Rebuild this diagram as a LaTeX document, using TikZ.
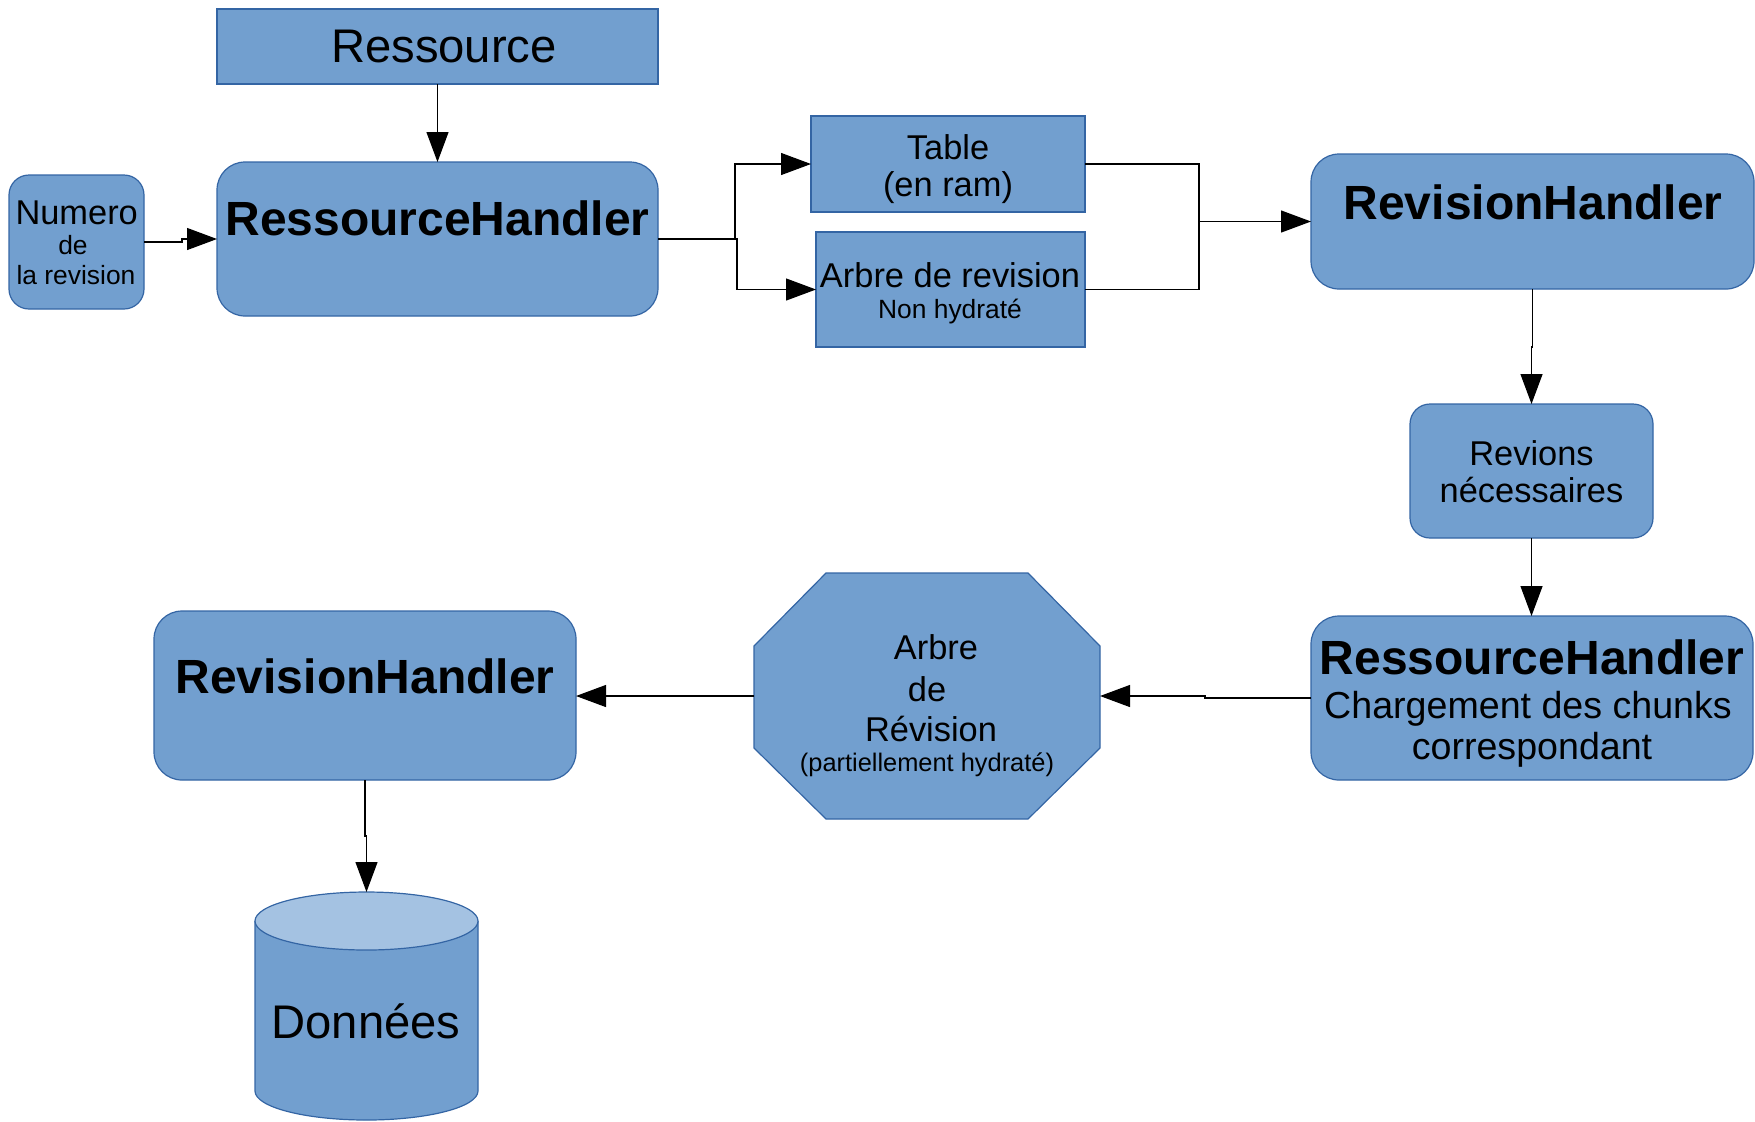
\documentclass[tikz,border=0pt]{standalone}
\usepackage{fontspec}
\setmainfont{Liberation Sans}
\usetikzlibrary{arrows.meta,calc}
\definecolor{boxfill}{HTML}{729FCF}
\definecolor{boxline}{HTML}{3465A4}
\definecolor{cyltop}{HTML}{A4C2E2}
\begin{document}
\begin{tikzpicture}[x=0.5pt,y=-0.5pt,
 shapebox/.style={draw=boxline, fill=boxfill, line width=0.6pt, inner sep=0pt, outer sep=0pt},
 roundbox/.style={shapebox, rounded corners=14pt},
 txt/.style={inner sep=0pt, text depth=0pt},
 bigtxt/.style={txt, text height=16.9pt, font=\fontsize{23.6}{28}\selectfont},
 boldtxt/.style={txt, text height=17.2pt, font=\fontsize{24}{28}\selectfont\bfseries},
 medtxt/.style={txt, text height=12.4pt, font=\fontsize{17.2}{20}\selectfont},
 lrgtxt/.style={txt, text height=13.5pt, font=\fontsize{18.8}{22}\selectfont},
 smalltxt/.style={txt, text height=9.5pt, font=\fontsize{13.2}{16}\selectfont},
 conn/.style={draw=black, line width=0.6pt, -{Triangle[length=15pt,width=11pt]}},
 wire/.style={draw=black, line width=0.6pt}]

\useasboundingbox (0,0) rectangle (1755,1121);

% Ressource
\node[shapebox, minimum width=220.5pt, minimum height=37.5pt] (res) at (437.5,46.5) {};
\node[bigtxt] (resT) at (444,46) {Ressource};

% RessourceHandler (top)
\node[roundbox, minimum width=220.5pt, minimum height=77pt] (rh1) at (437.5,239) {};
\node[boldtxt] (rh1T) at (437.5,218.5) {RessourceHandler};

% Numero de la revision
\node[roundbox, rounded corners=10pt, minimum width=67.5pt, minimum height=67pt] (num) at (76.5,242) {};
\node[medtxt] (numA) at (76.7,212) {Numero};
\node[smalltxt] (numB) at (73,245) {de};
\node[smalltxt] (numC) at (76,275) {la revision};

% Table (en ram)
\node[shapebox, minimum width=137pt, minimum height=48pt] (table) at (948,164) {};
\node[medtxt] (tabA) at (948,147) {Table};
\node[medtxt] (tabB) at (948,184) {(en ram)};

% Arbre de revision
\node[shapebox, minimum width=134.5pt, minimum height=57.5pt] (arbre) at (950.5,289.5) {};
\node[medtxt] (arbA) at (950,275) {Arbre de revision};
\node[smalltxt] (arbB) at (950,309) {Non hydraté};

% RevisionHandler (top)
\node[roundbox, minimum width=221.5pt, minimum height=67.5pt] (rv1) at (1532.5,221.5) {};
\node[boldtxt] (rv1T) at (1533,202.5) {RevisionHandler};

% Revions nécessaires
\node[roundbox, rounded corners=10pt, minimum width=121.5pt, minimum height=67pt] (rn) at (1531.5,471) {};
\node[medtxt] (rnA) at (1531.5,453.5) {Revions};
\node[medtxt] (rnB) at (1531.5,490) {nécessaires};

% RessourceHandler (bottom)
\node[roundbox, minimum width=221pt, minimum height=82pt] (rh2) at (1532,698) {};
\node[boldtxt] (rh2A) at (1532,657.5) {RessourceHandler};
\node[lrgtxt] (rh2B) at (1528,705) {Chargement des chunks};
\node[lrgtxt] (rh2C) at (1532,746) {correspondant};

% Octagon
\node[inner sep=0pt, outer sep=0pt, minimum width=173pt, minimum height=123pt] (oct) at (927,696) {};
\draw[draw=boxline, fill=boxfill, line width=0.6pt]
  (754,646) -- (826,573) -- (1028,573) -- (1100,646) -- (1100,748)
  -- (1028,819) -- (826,819) -- (754,748) -- cycle;
\node[medtxt] (octA) at (936,647) {Arbre};
\node[medtxt] (octB) at (927,689) {de};
\node[medtxt] (octC) at (931,729) {Révision};
\node[txt, text height=9.1pt, font=\fontsize{12.7}{15}\selectfont] (octD) at (927,762) {(partiellement hydraté)};

% RevisionHandler (bottom)
\node[roundbox, minimum width=211pt, minimum height=84.5pt] (rv2) at (365,695.5) {};
\node[boldtxt] (rv2T) at (365,676.5) {RevisionHandler};

% Cylinder
\draw[draw=boxline, fill=boxfill, line width=0.6pt]
  (255,921) -- (255,1091) arc[start angle=180, end angle=360, x radius=55.75pt, y radius=14.5pt] -- (478,921);
\draw[draw=boxline, fill=cyltop, line width=0.6pt] (366.5,921) ellipse [x radius=55.75pt, y radius=14.5pt];
\coordinate (cyl) at (366.5,892);
\node[bigtxt] (cylT) at (366,1022) {Données};

% Connectors
\draw[conn] (res.south) -- (rh1.north);
\draw[conn] (num.east) -- ++(38,0) |- (rh1.west);
\draw[conn] (rh1.east) -- ++(77,0) |- (table.west);
\draw[conn] (rh1.east) -- ++(79,0) |- (arbre.west);
\coordinate (j) at (1199,221.5);
\draw[wire] (table.east) -| (j);
\draw[wire] (arbre.east) -| (j);
\draw[conn] (j) -- (rv1.west);
\draw[conn] (rv1.south) -- ++(0,58) -| (rn.north);
\draw[conn] (rn.south) -- (rn.south |- rh2.north);
\draw[conn] (rh2.west) -- ++(-106,0) |- (oct.east);
\draw[conn] (oct.west) -- (oct.west -| rv2.east);
\draw[conn] (rv2.south) -- ++(0,56) -| (cyl);
\end{tikzpicture}
\end{document}
